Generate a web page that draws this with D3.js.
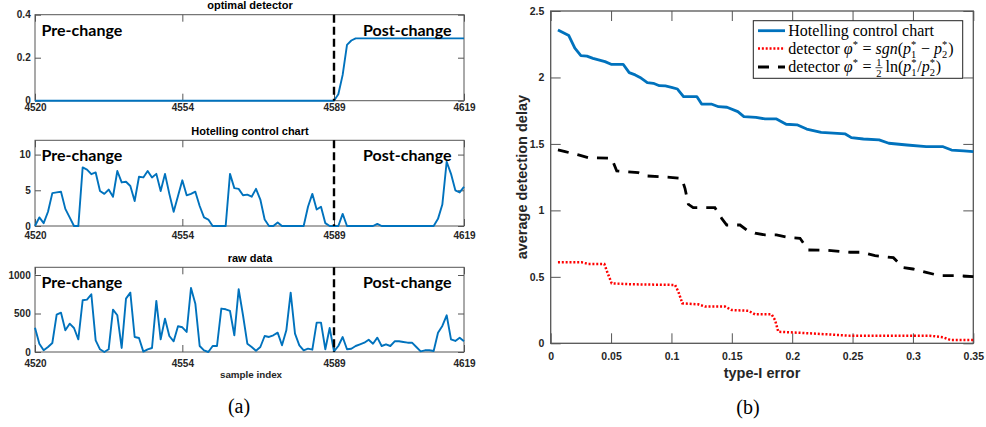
<!DOCTYPE html>
<html><head><meta charset="utf-8">
<script src="https://cdn.jsdelivr.net/npm/d3@7/dist/d3.min.js"></script>
<style>body{margin:0;background:#fff}svg{display:block}text{white-space:pre}</style>
</head><body>
<svg id="c" width="986" height="427"></svg>
<script>
// ---------- DATA ----------
const sampleStart = 4520;
const sampleEnd = 4619;
const changeIndex = 4589;
const sampleTicks = [4520, 4554, 4589, 4619];

const optimalDetector = [
 0,0,0,0,0,0,0,0,0,0, 0,0,0,0,0,0,0,0,0,0,
 0,0,0,0,0,0,0,0,0,0, 0,0,0,0,0,0,0,0,0,0,
 0,0,0,0,0,0,0,0,0,0, 0,0,0,0,0,0,0,0,0,0,
 0,0,0,0,0,0,0,0,0,0, 0.03,0.12,0.26,0.28,0.29,0.29,0.29,0.29,0.29,0.29,
 0.29,0.29,0.29,0.29,0.29,0.29,0.29,0.29,0.29,0.29, 0.29,0.29,0.29,0.29,0.29,0.29,0.29,0.29,0.29,0.29];

const hotellingStat = [
 0, 1.2, 0.4, 2.0, 4.6, 4.7, 4.8, 2.4, 1.2, 0,
 0, 8.2, 7.9, 7.25, 7.5, 4.9, 4.5, 5.1, 4.1, 7.7,
 6.1, 6.2, 5.6, 3.5, 6.9, 6.8, 7.7, 6.8, 7.3, 4.9,
 7.3, 4.5, 2.0, 4.2, 6.4, 4.3, 4.5, 4.8, 2.8, 1.2,
 0.9, 0, 0, 0, 0, 7.3, 5.3, 5.2, 4.3, 4.4,
 4.1, 5.2, 3.7, 0.9, 0, 0, 0.5, 0, 0, 0,
 0, 0, 0, 2.7, 4.5, 2.3, 2.7, 0.4, 0, 0,
 0, 1.7, 0, 0, 0, 0, 0, 0, 0, 0.3,
 0, 0, 0, 0, 0, 0, 0, 0, 0, 0,
 0, 0, 0, 1.0, 3.0, 9.0, 7.3, 5.0, 4.7, 5.5];

const rawData = [
 316, 108, 22, 65, 117, 485, 511, 282, 368, 312,
 165, 672, 680, 750, 152, 35, 0, 35, 550, 477,
 52, 693, 771, 195, 182, 5, 35, 52, 663, 165,
 433, 208, 139, 334, 321, 260, 832, 628, 78, 22,
 0, 78, 78, 564, 555, 533, 217, 815, 477, 108,
 65, 17, 65, 208, 195, 217, 251, 87, 282, 771,
 238, 87, 22, 43, 30, 381, 381, 35, 312, 9,
 78, 195, 35, 43, 78, 100, 121, 160, 108, 186,
 78, 100, 78, 139, 139, 130, 121, 121, 65, 9,
 22, 22, 13, 251, 338, 477, 165, 143, 186, 139];

const panelTitles = ["optimal detector", "Hotelling control chart", "raw data"];
const panelYTicks = [[0, 0.2, 0.4], [0, 5, 10], [0, 500, 1000]];
const panelYMax = [0.4, 12, 1100];

// right panel
const errTicks = [0, 0.05, 0.1, 0.15, 0.2, 0.25, 0.3, 0.35];
const delayTicks = [0, 0.5, 1, 1.5, 2, 2.5];

const hotErr = [0.006,0.015,0.020,0.025,0.030,0.035,0.045,0.050,0.060,0.065,0.070,0.074,0.080,0.085,0.090,0.095,0.100,0.105,0.110,0.121,0.125,0.133,0.139,0.146,0.155,0.160,0.170,0.1775,0.187,0.195,0.204,0.212,0.224,0.244,0.249,0.259,0.272,0.280,0.295,0.311,0.325,0.332,0.342,0.350];
const hotDelay = [2.357,2.315,2.22,2.164,2.16,2.144,2.119,2.099,2.099,2.036,2.019,2.0,1.961,1.956,1.938,1.936,1.926,1.913,1.856,1.856,1.80,1.80,1.78,1.776,1.743,1.705,1.70,1.688,1.688,1.648,1.644,1.612,1.587,1.575,1.547,1.537,1.53,1.505,1.492,1.479,1.479,1.454,1.447,1.442];

const sgnErr = [0.006,0.0257,0.0312,0.0444,0.0472,0.0505,0.067,0.103,0.1057,0.109,0.1222,0.1278,0.1444,0.150,0.1637,0.1692,0.183,0.1858,0.1885,0.2148,0.248,0.314,0.325,0.331,0.350];
const sgnDelay = [0.609,0.609,0.597,0.597,0.527,0.451,0.444,0.439,0.389,0.301,0.293,0.276,0.276,0.25,0.245,0.218,0.218,0.175,0.087,0.075,0.057,0.057,0.045,0.025,0.025];

const lnErr = [0.006,0.012,0.023,0.031,0.0505,0.0547,0.0726,0.0795,0.0988,0.1085,0.1112,0.114,0.118,0.136,0.1416,0.1458,0.1568,0.1623,0.1692,0.1775,0.187,0.198,0.2065,0.2134,0.2286,0.248,0.2576,0.2686,0.2838,0.292,0.300,0.311,0.322,0.339,0.350];
const lnDelay = [1.455,1.442,1.417,1.397,1.392,1.296,1.284,1.259,1.249,1.241,1.166,1.046,1.02,1.02,0.94,0.89,0.89,0.853,0.828,0.815,0.815,0.795,0.79,0.702,0.70,0.685,0.685,0.659,0.644,0.569,0.559,0.534,0.509,0.509,0.501];

// ---------- DRAW ----------
const svg = d3.select("#c");
const SANS = "'Liberation Sans', Arial, Helvetica, sans-serif";
const SERIF = "'Liberation Serif', 'Times New Roman', serif";
const BLUE = "#0072BD";
const AX = "#555";
const TXT = "#262626";

function styleAxis(g, fs) {
  g.select(".domain").remove();
  g.selectAll(".tick line").attr("stroke", AX).attr("stroke-width", 1);
  g.selectAll("text").attr("fill", TXT).attr("font-weight", "bold")
    .attr("font-family", SANS).attr("font-size", fs);
  g.attr("font-family", SANS).attr("font-size", fs);
}

// left panels
const panels = [
  {top: 14.7, bottom: 100.7, xpad: 3.4},
  {top: 140.3, bottom: 226, xpad: 5.5},
  {top: 267.3, bottom: 352, xpad: 7.4}
];
const series = [optimalDetector, hotellingStat, rawData];
const xL = d3.scaleLinear().domain([sampleStart, sampleEnd]).range([35, 464]);

panels.forEach((p, k) => {
  const y = d3.scaleLinear().domain([0, panelYMax[k]]).range([p.bottom, p.top]);
  const g = svg.append("g");
  const fs = 10;
  const fmt = d => String(d);
  g.append("g").attr("transform", `translate(0,${p.bottom})`)
    .call(d3.axisBottom(xL).tickValues(sampleTicks).tickSize(-7).tickSizeOuter(0).tickPadding(p.xpad).tickFormat(fmt))
    .call(a => styleAxis(a, fs));
  g.append("g").attr("transform", `translate(0,${p.top})`)
    .call(d3.axisTop(xL).tickValues(sampleTicks).tickSize(-7).tickSizeOuter(0).tickFormat(""))
    .call(a => styleAxis(a, fs));
  g.append("g").attr("transform", `translate(35,0)`)
    .call(d3.axisLeft(y).tickValues(panelYTicks[k]).tickSize(-6).tickSizeOuter(0).tickPadding(4.3).tickFormat(fmt))
    .call(a => styleAxis(a, fs));
  g.append("g").attr("transform", `translate(464,0)`)
    .call(d3.axisRight(y).tickValues(panelYTicks[k]).tickSize(-6).tickSizeOuter(0).tickFormat(""))
    .call(a => styleAxis(a, fs));
  g.append("rect").attr("x", 35).attr("y", p.top).attr("width", 464 - 35).attr("height", p.bottom - p.top)
    .attr("fill", "none").attr("stroke", AX).attr("stroke-width", 1);

  // data line
  const line = d3.line().x((d, i) => xL(sampleStart + i)).y(d => y(d));
  g.append("path").datum(series[k]).attr("d", line).attr("fill", "none")
    .attr("stroke", BLUE).attr("stroke-width", 1.9).attr("stroke-linejoin", "round");

  // change line
  g.append("line").attr("x1", xL(changeIndex)).attr("x2", xL(changeIndex))
    .attr("y1", p.top).attr("y2", p.bottom)
    .attr("stroke", "#000").attr("stroke-width", 2.4).attr("stroke-dasharray", "8,4");

  // labels
  g.append("text").attr("x", 41.5).attr("y", p.top + 20.8).text("Pre-change")
    .attr("font-family", "Lato, 'Open Sans', sans-serif").attr("font-weight", "bold").attr("font-size", 16).attr("fill", "#000");
  g.append("text").attr("x", 451.5).attr("y", p.top + 20.8).attr("text-anchor", "end").text("Post-change")
    .attr("font-family", "Lato, 'Open Sans', sans-serif").attr("font-weight", "bold").attr("font-size", 16).attr("fill", "#000");

  g.append("text").attr("x", 250).attr("y", p.top - 5.8).attr("text-anchor", "middle").text(panelTitles[k])
    .attr("font-family", SANS).attr("font-weight", "bold").attr("font-size", 11).attr("fill", "#000");
});

svg.append("text").attr("x", 251).attr("y", 378.3).attr("text-anchor", "middle").text("sample index")
  .attr("font-family", SANS).attr("font-weight", "bold").attr("font-size", 9.8).attr("fill", TXT);
svg.append("text").attr("x", 239).attr("y", 413).attr("text-anchor", "middle").text("(a)")
  .attr("font-family", SERIF).attr("font-size", 20).attr("fill", "#000");

// right panel
const R = {l: 550.7, r: 973.3, t: 11, b: 343.3};
const xR = d3.scaleLinear().domain([0, 0.35]).range([R.l, R.r]);
const yR = d3.scaleLinear().domain([0, 2.5]).range([R.b, R.t]);
const gr = svg.append("g");
const fsR = 10.5;
gr.append("g").attr("transform", `translate(0,${R.b})`)
  .call(d3.axisBottom(xR).tickValues(errTicks).tickSize(-10).tickSizeOuter(0).tickPadding(9.2).tickFormat(d => String(d)))
  .call(a => styleAxis(a, fsR));
gr.append("g").attr("transform", `translate(0,${R.t})`)
  .call(d3.axisTop(xR).tickValues(errTicks).tickSize(-10).tickSizeOuter(0).tickFormat(""))
  .call(a => styleAxis(a, fsR));
gr.append("g").attr("transform", `translate(${R.l},0)`)
  .call(d3.axisLeft(yR).tickValues(delayTicks).tickSize(-10).tickSizeOuter(0).tickPadding(6.4).tickFormat(d => String(d)))
  .call(a => styleAxis(a, fsR));
gr.append("g").attr("transform", `translate(${R.r},0)`)
  .call(d3.axisRight(yR).tickValues(delayTicks).tickSize(-10).tickSizeOuter(0).tickFormat(""))
  .call(a => styleAxis(a, fsR));
gr.append("rect").attr("x", R.l).attr("y", R.t).attr("width", R.r - R.l).attr("height", R.b - R.t)
  .attr("fill", "none").attr("stroke", AX).attr("stroke-width", 1.3);

const lineR = d3.line().x(d => xR(d[0])).y(d => yR(d[1]));
gr.append("path").datum(d3.zip(hotErr, hotDelay)).attr("d", lineR).attr("fill", "none")
  .attr("stroke", BLUE).attr("stroke-width", 2.8).attr("stroke-linejoin", "round");
gr.append("path").datum(d3.zip(sgnErr, sgnDelay)).attr("d", lineR).attr("fill", "none")
  .attr("stroke", "#FF0000").attr("stroke-width", 2.5).attr("stroke-dasharray", "2,1.85");
gr.append("path").datum(d3.zip(lnErr, lnDelay)).attr("d", lineR).attr("fill", "none")
  .attr("stroke", "#000").attr("stroke-width", 2.8).attr("stroke-dasharray", "11,9");

gr.append("text").attr("x", (R.l + R.r) / 2).attr("y", 377.5).attr("text-anchor", "middle").text("type-I error")
  .attr("font-family", SANS).attr("font-weight", "bold").attr("font-size", 14.5).attr("fill", TXT);
gr.append("text").attr("transform", `translate(527,${(R.t + R.b) / 2}) rotate(-90)`).attr("text-anchor", "middle")
  .text("average detection delay")
  .attr("font-family", SANS).attr("font-weight", "bold").attr("font-size", 14.5).attr("fill", TXT);
svg.append("text").attr("x", 748).attr("y", 414).attr("text-anchor", "middle").text("(b)")
  .attr("font-family", SERIF).attr("font-size", 20).attr("fill", "#000");

// legend
const lg = gr.append("g");
lg.append("rect").attr("x", 753.3).attr("y", 20.7).attr("width", 962.7 - 753.3).attr("height", 78.3 - 20.7)
  .attr("fill", "#fff").attr("stroke", "#222").attr("stroke-width", 1);
const legendRows = [
  {y: 30.7, stroke: BLUE, w: 2.8, dash: null},
  {y: 48.5, stroke: "#FF0000", w: 2.5, dash: "2,1.85"},
  {y: 67.0, stroke: "#000", w: 2.8, dash: "11,9"}
];
legendRows.forEach(r => {
  lg.append("line").attr("x1", 758).attr("x2", 785).attr("y1", r.y).attr("y2", r.y)
    .attr("stroke", r.stroke).attr("stroke-width", r.w).attr("stroke-dasharray", r.dash);
});

const LFS = 16;
const NB = "\u00A0";
function mathLine(x, y, items) {
  let cx = x;
  items.forEach(it => {
    if (it.sp) { cx += it.sp; return; }
    if (it.subsup) {
      const a = lg.append("text").attr("x", cx).attr("y", y - 6).attr("font-size", 10.5).attr("font-family", SERIF).text("*");
      const b = lg.append("text").attr("x", cx).attr("y", y + 3.5).attr("font-size", 10.5).attr("font-family", SERIF).text(it.subsup);
      cx += Math.max(a.node().getComputedTextLength(), b.node().getComputedTextLength()) + 0.8;
      return;
    }
    if (it.sup) {
      const a = lg.append("text").attr("x", cx).attr("y", y - 6).attr("font-size", 10.5).attr("font-family", SERIF).text(it.sup);
      cx += a.node().getComputedTextLength() + 0.5;
      return;
    }
    if (it.frac) {
      const w = 7;
      lg.append("text").attr("x", cx + w / 2).attr("y", y - 6.5).attr("text-anchor", "middle").attr("font-size", 10.5).attr("font-family", SERIF).text(it.frac[0]);
      lg.append("line").attr("x1", cx).attr("x2", cx + w).attr("y1", y - 4.5).attr("y2", y - 4.5).attr("stroke", "#000").attr("stroke-width", 0.7);
      lg.append("text").attr("x", cx + w / 2).attr("y", y + 4.5).attr("text-anchor", "middle").attr("font-size", 10.5).attr("font-family", SERIF).text(it.frac[1]);
      cx += w + 3;
      return;
    }
    const t = lg.append("text").attr("x", cx).attr("y", y).attr("font-size", LFS).attr("font-family", SERIF)
      .attr("font-style", it.i ? "italic" : "normal").text(it.t);
    cx += t.node().getComputedTextLength();
  });
}
mathLine(788.3, 35.5, [{t: "Hotelling control chart"}]);
mathLine(788.3, 54.3, [{t: "detector" + NB}, {t: "\u03C6", i: true}, {sup: "*"}, {t: NB + "=" + NB}, {t: "sgn", i: true}, {t: "("},
  {t: "p", i: true}, {subsup: "1"}, {t: NB + "\u2212" + NB}, {t: "p", i: true}, {subsup: "2"}, {t: ")"}]);
mathLine(788.3, 72.2, [{t: "detector" + NB}, {t: "\u03C6", i: true}, {sup: "*"}, {t: NB + "=" + NB}, {frac: ["1", "2"]}, {t: "ln("},
  {t: "p", i: true}, {subsup: "1"}, {t: "/"}, {t: "p", i: true}, {subsup: "2"}, {t: ")"}]);
</script>
</body></html>
